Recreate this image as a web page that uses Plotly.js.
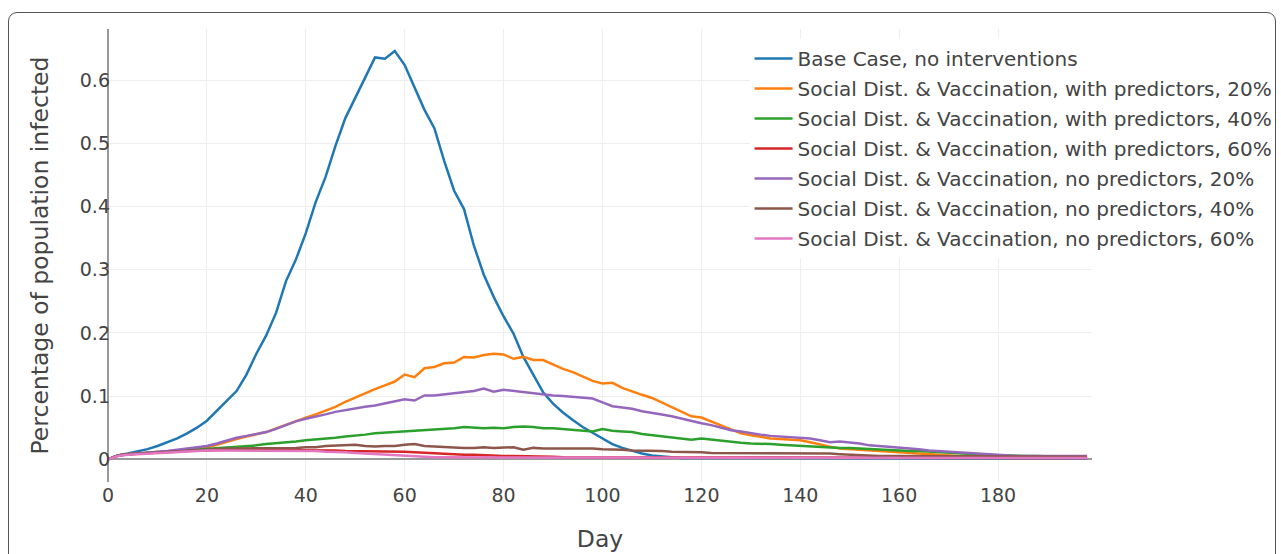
<!DOCTYPE html>
<html>
<head>
<meta charset="utf-8">
<script src="https://cdn.plot.ly/plotly-3.0.1.min.js"></script>
<style>
  html, body { margin: 0; padding: 0; background: #fff; overflow: hidden; }
  #wrap { position: relative; width: 1281px; height: 554px; }
  #chart { position: absolute; left: 0; top: 0; width: 1281px; height: 554px; }
  #frame { position: absolute; left: 8px; top: 12px; width: 1266px; height: 600px;
           border: 1.5px solid #555; border-radius: 9px; pointer-events: none; }
</style>
</head>
<body>
<div id="wrap">
  <div id="chart"></div>
  <div id="frame"></div>
</div>
<script>
// Day axis (every second day)
const days = [];
for (let d = 0; d <= 198; d += 2) days.push(d);

const seriesNames = [
  "Base Case, no interventions",
  "Social Dist. & Vaccination, with predictors, 20%",
  "Social Dist. & Vaccination, with predictors, 40%",
  "Social Dist. & Vaccination, with predictors, 60%",
  "Social Dist. & Vaccination, no predictors, 20%",
  "Social Dist. & Vaccination, no predictors, 40%",
  "Social Dist. & Vaccination, no predictors, 60%"
];

const baseCase = [
  0, 0.006, 0.009, 0.012, 0.016, 0.021, 0.027, 0.033, 0.041, 0.050,
  0.061, 0.077, 0.093, 0.108, 0.134, 0.167, 0.196, 0.232, 0.282, 0.316,
  0.358, 0.407, 0.447, 0.496, 0.540, 0.572, 0.603, 0.636, 0.634, 0.646,
  0.624, 0.588, 0.553, 0.524, 0.472, 0.425, 0.396, 0.338, 0.292, 0.257,
  0.226, 0.199, 0.162, 0.134, 0.106, 0.088, 0.074, 0.062, 0.051, 0.042,
  0.033, 0.024, 0.018, 0.013, 0.009, 0.006, 0.004, 0.003, 0.002, 0.002,
  0.001, 0.001, 0.001, 0.001, 0.001, 0.001, 0.001, 0.001, 0.001, 0.001,
  0.001, 0.001, 0.001, 0.001, 0.001, 0.001, 0.001, 0.001, 0.001, 0.001,
  0.001, 0.001, 0.001, 0.001, 0.001, 0.001, 0.001, 0.001, 0.001, 0.001,
  0.001, 0.001, 0.001, 0.001, 0.001, 0.001, 0.001, 0.001, 0.001, 0.001
];

const withPred20 = [
  0, 0.006, 0.008, 0.009, 0.010, 0.011, 0.012, 0.013, 0.015, 0.017,
  0.019, 0.023, 0.028, 0.032, 0.036, 0.040, 0.043, 0.049, 0.055, 0.060,
  0.066, 0.071, 0.077, 0.083, 0.091, 0.098, 0.104, 0.111, 0.117, 0.123,
  0.134, 0.130, 0.144, 0.146, 0.152, 0.153, 0.162, 0.161, 0.165, 0.167,
  0.166, 0.159, 0.162, 0.157, 0.157, 0.150, 0.143, 0.138, 0.131, 0.124,
  0.120, 0.121, 0.113, 0.107, 0.102, 0.097, 0.090, 0.082, 0.075, 0.068,
  0.066, 0.060, 0.053, 0.047, 0.041, 0.038, 0.035, 0.033, 0.032, 0.031,
  0.030, 0.027, 0.023, 0.020, 0.017, 0.016, 0.014, 0.013, 0.012, 0.011,
  0.010, 0.009, 0.008, 0.007, 0.006, 0.006, 0.005, 0.005, 0.005, 0.004,
  0.004, 0.004, 0.004, 0.003, 0.003, 0.003, 0.003, 0.003, 0.003, 0.003
];

const withPred40 = [
  0, 0.006, 0.008, 0.009, 0.010, 0.011, 0.012, 0.013, 0.014, 0.015,
  0.017, 0.017, 0.018, 0.019, 0.020, 0.022, 0.024, 0.025, 0.026, 0.028,
  0.030, 0.031, 0.033, 0.034, 0.036, 0.037, 0.039, 0.041, 0.042, 0.043,
  0.043, 0.044, 0.045, 0.046, 0.047, 0.049, 0.051, 0.050, 0.049, 0.050,
  0.049, 0.051, 0.052, 0.051, 0.049, 0.049, 0.048, 0.047, 0.045, 0.044,
  0.048, 0.045, 0.044, 0.043, 0.040, 0.038, 0.037, 0.035, 0.033, 0.031,
  0.033, 0.031, 0.029, 0.027, 0.026, 0.025, 0.025, 0.024, 0.023, 0.022,
  0.021, 0.020, 0.020, 0.019, 0.018, 0.018, 0.017, 0.016, 0.015, 0.015,
  0.014, 0.013, 0.013, 0.012, 0.011, 0.010, 0.009, 0.009, 0.008, 0.007,
  0.006, 0.006, 0.005, 0.005, 0.005, 0.004, 0.004, 0.004, 0.004, 0.004
];

const withPred60 = [
  0, 0.006, 0.008, 0.009, 0.010, 0.011, 0.012, 0.012, 0.013, 0.014,
  0.014, 0.015, 0.015, 0.015, 0.015, 0.015, 0.015, 0.015, 0.015, 0.015,
  0.015, 0.014, 0.014, 0.014, 0.013, 0.013, 0.013, 0.012, 0.012, 0.012,
  0.012, 0.011, 0.010, 0.009, 0.008, 0.008, 0.007, 0.007, 0.006, 0.006,
  0.005, 0.005, 0.005, 0.004, 0.004, 0.004, 0.003, 0.003, 0.003, 0.003,
  0.003, 0.003, 0.002, 0.002, 0.002, 0.002, 0.002, 0.002, 0.002, 0.002,
  0.002, 0.002, 0.002, 0.002, 0.002, 0.002, 0.002, 0.002, 0.002, 0.002,
  0.002, 0.002, 0.002, 0.002, 0.002, 0.002, 0.002, 0.002, 0.002, 0.002,
  0.002, 0.002, 0.002, 0.002, 0.002, 0.002, 0.002, 0.002, 0.002, 0.002,
  0.002, 0.002, 0.002, 0.002, 0.002, 0.002, 0.002, 0.002, 0.002, 0.002
];

const noPred20 = [
  0, 0.006, 0.008, 0.009, 0.010, 0.011, 0.013, 0.015, 0.017, 0.019,
  0.021, 0.025, 0.030, 0.034, 0.037, 0.040, 0.043, 0.048, 0.054, 0.060,
  0.064, 0.067, 0.071, 0.075, 0.078, 0.081, 0.083, 0.085, 0.088, 0.092,
  0.095, 0.093, 0.101, 0.101, 0.103, 0.105, 0.107, 0.108, 0.112, 0.107,
  0.110, 0.108, 0.106, 0.104, 0.103, 0.101, 0.100, 0.099, 0.097, 0.096,
  0.090, 0.084, 0.082, 0.080, 0.076, 0.074, 0.071, 0.068, 0.064, 0.060,
  0.057, 0.054, 0.050, 0.046, 0.044, 0.041, 0.039, 0.037, 0.036, 0.035,
  0.035, 0.033, 0.030, 0.027, 0.028, 0.027, 0.025, 0.022, 0.021, 0.020,
  0.019, 0.017, 0.016, 0.014, 0.013, 0.012, 0.010, 0.010, 0.008, 0.007,
  0.006, 0.006, 0.005, 0.005, 0.005, 0.005, 0.005, 0.005, 0.005, 0.005
];

const noPred40 = [
  0, 0.006, 0.008, 0.009, 0.010, 0.011, 0.012, 0.013, 0.014, 0.015,
  0.016, 0.016, 0.017, 0.017, 0.017, 0.018, 0.018, 0.018, 0.018, 0.018,
  0.019, 0.019, 0.021, 0.022, 0.022, 0.023, 0.021, 0.020, 0.021, 0.021,
  0.023, 0.024, 0.021, 0.020, 0.020, 0.019, 0.018, 0.018, 0.019, 0.018,
  0.018, 0.019, 0.015, 0.018, 0.017, 0.017, 0.018, 0.017, 0.017, 0.017,
  0.016, 0.016, 0.015, 0.014, 0.014, 0.013, 0.013, 0.012, 0.012, 0.011,
  0.011, 0.010, 0.010, 0.009, 0.009, 0.009, 0.009, 0.009, 0.009, 0.010,
  0.010, 0.010, 0.009, 0.009, 0.008, 0.007, 0.006, 0.006, 0.005, 0.005,
  0.005, 0.005, 0.004, 0.004, 0.004, 0.004, 0.004, 0.004, 0.004, 0.004,
  0.004, 0.004, 0.004, 0.004, 0.004, 0.004, 0.004, 0.004, 0.004, 0.004
];

const noPred60 = [
  0, 0.005, 0.007, 0.008, 0.009, 0.010, 0.011, 0.012, 0.013, 0.013,
  0.014, 0.014, 0.014, 0.014, 0.014, 0.014, 0.014, 0.014, 0.013, 0.013,
  0.013, 0.013, 0.012, 0.012, 0.011, 0.010, 0.009, 0.008, 0.007, 0.006,
  0.005, 0.005, 0.004, 0.003, 0.003, 0.003, 0.002, 0.002, 0.002, 0.002,
  0.002, 0.002, 0.002, 0.002, 0.002, 0.002, 0.002, 0.002, 0.002, 0.002,
  0.002, 0.002, 0.002, 0.002, 0.002, 0.002, 0.002, 0.002, 0.002, 0.002,
  0.002, 0.002, 0.002, 0.002, 0.002, 0.002, 0.002, 0.002, 0.002, 0.002,
  0.002, 0.002, 0.002, 0.002, 0.002, 0.002, 0.002, 0.002, 0.002, 0.002,
  0.002, 0.002, 0.002, 0.002, 0.002, 0.002, 0.002, 0.002, 0.002, 0.002,
  0.002, 0.002, 0.002, 0.002, 0.002, 0.002, 0.002, 0.002, 0.002, 0.002
];

const seriesValues = [baseCase, withPred20, withPred40, withPred60, noPred20, noPred40, noPred60];
const colors = ["#1f77b4", "#ff7f0e", "#2ca02c", "#d62728", "#9467bd", "#8c564b", "#e377c2"];

const xTicks = [0, 20, 40, 60, 80, 100, 120, 140, 160, 180];
const yTicks = [0, 0.1, 0.2, 0.3, 0.4, 0.5, 0.6];

const traces = seriesValues.map((vals, i) => ({
  type: "scatter",
  mode: "lines",
  name: seriesNames[i],
  legendgroup: "g" + i,
  x: days,
  y: vals,
  line: { color: colors[i], width: 2.5 }
}));

const font = "DejaVu Sans, Verdana, sans-serif";

const layout = {
  width: 1281,
  height: 554,
  margin: { l: 108, r: 189, t: 29, b: 72, pad: 0, autoexpand: false },
  paper_bgcolor: "rgba(0,0,0,0)",
  plot_bgcolor: "#fff",
  font: { family: font, color: "#444", size: 19 },
  showlegend: true,
  legend: {
    x: 0.652, y: 0.978, xanchor: "left", yanchor: "top",
    bgcolor: "#fff",
    font: { family: font, size: 20, color: "#444" },
    itemwidth: 38,
    tracegroupgap: 1,
    traceorder: "grouped"
  },
  xaxis: {
    range: [0, 199],
    tickvals: xTicks,
    ticktext: xTicks.map(String),
    showgrid: true, gridcolor: "#eee", gridwidth: 1,
    zeroline: true, zerolinecolor: "#999", zerolinewidth: 2,
    showline: false, ticks: "",
    tickfont: { size: 19, color: "#444" },
    title: { text: "Day", font: { size: 23.5, color: "#444" }, standoff: 25 }
  },
  yaxis: {
    range: [-0.036, 0.681],
    tickvals: yTicks,
    ticktext: yTicks.map(v => String(v)),
    showgrid: true, gridcolor: "#eee", gridwidth: 1,
    zeroline: true, zerolinecolor: "#999", zerolinewidth: 2,
    showline: false, ticks: "",
    ticklabelstandoff: -3,
    tickfont: { size: 19, color: "#444" },
    title: { text: "Percentage of population infected", font: { size: 23.5, color: "#444" }, standoff: 24 }
  }
};

Plotly.newPlot("chart", traces, layout, { displayModeBar: false, staticPlot: true });
</script>
</body>
</html>
